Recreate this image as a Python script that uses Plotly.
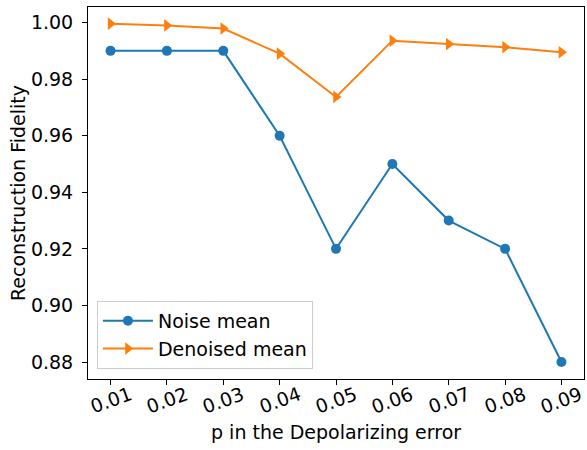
import plotly.graph_objects as go

p_values = [0.01, 0.02, 0.03, 0.04, 0.05, 0.06, 0.07, 0.08, 0.09]
noise_mean = [0.99, 0.99, 0.99, 0.96, 0.92, 0.95, 0.93, 0.92, 0.88]
denoised_mean = [0.9996, 0.9990, 0.9979, 0.9890, 0.9737, 0.9936, 0.9924, 0.9913, 0.9895]
x_ticks = [0.01, 0.02, 0.03, 0.04, 0.05, 0.06, 0.07, 0.08, 0.09]
x_tick_labels = ["0.01", "0.02", "0.03", "0.04", "0.05", "0.06", "0.07", "0.08", "0.09"]
y_ticks = [0.88, 0.90, 0.92, 0.94, 0.96, 0.98, 1.00]
y_tick_labels = ["0.88", "0.90", "0.92", "0.94", "0.96", "0.98", "1.00"]
x_title = "p in the Depolarizing error"
y_title = "Reconstruction Fidelity"

FONT = "DejaVu Sans"
FS = 19

fig = go.Figure()
fig.add_trace(go.Scatter(
    x=p_values, y=noise_mean, mode="lines+markers", name="Noise mean",
    line=dict(color="#1f77b4", width=2),
    marker=dict(symbol="circle", size=10, color="#1f77b4"),
))
fig.add_trace(go.Scatter(
    x=p_values, y=denoised_mean, mode="lines+markers", name="Denoised mean",
    line=dict(color="#ff7f0e", width=2),
    marker=dict(symbol="triangle-right", size=11, color="#ff7f0e"),
))

axis_common = dict(
    showline=True, linecolor="black", linewidth=1, mirror=True,
    ticks="outside", ticklen=5, tickwidth=1, tickcolor="black",
    showgrid=False, zeroline=False, automargin=False,
    tickfont=dict(family=FONT, size=FS, color="black"),
)

# rotated x tick labels, centred under each tick (like matplotlib rotation=20)
for xv, lab in zip(x_ticks, x_tick_labels):
    fig.add_annotation(
        x=xv, y=-0.057, xref="x", yref="paper", text=lab, showarrow=False,
        textangle=-20, xanchor="center", yanchor="middle",
        font=dict(family=FONT, size=FS, color="black"),
    )

fig.add_annotation(
    x=0.5, y=-0.142, xref="paper", yref="paper", text=x_title, showarrow=False,
    xanchor="center", yanchor="middle", font=dict(family=FONT, size=FS, color="black"),
)
fig.add_annotation(
    x=-0.141, y=0.5, xref="paper", yref="paper", text=y_title, showarrow=False,
    textangle=-90, xanchor="center", yanchor="middle",
    font=dict(family=FONT, size=FS, color="black"),
)

fig.update_layout(
    width=587, height=450,
    margin=dict(l=88, r=3, t=7, b=71),
    plot_bgcolor="white", paper_bgcolor="white",
    font=dict(family=FONT, color="black"),
    xaxis=dict(
        range=[0.006, 0.094], tickvals=x_ticks, showticklabels=False,
        **axis_common,
    ),
    yaxis=dict(
        range=[0.874, 1.0055], tickvals=y_ticks, ticktext=y_tick_labels,
        ticklabelstandoff=5,
        **axis_common,
    ),
    legend=dict(
        x=0.018, y=0.027, xanchor="left", yanchor="bottom",
        bordercolor="#cccccc", borderwidth=1, bgcolor="rgba(255,255,255,0.8)",
        font=dict(family=FONT, size=FS, color="black"),
        itemwidth=50,
    ),
    showlegend=True,
)

fig.write_html("out.html", config={"displayModeBar": False},
               post_script="document.body.style.margin='0';")
